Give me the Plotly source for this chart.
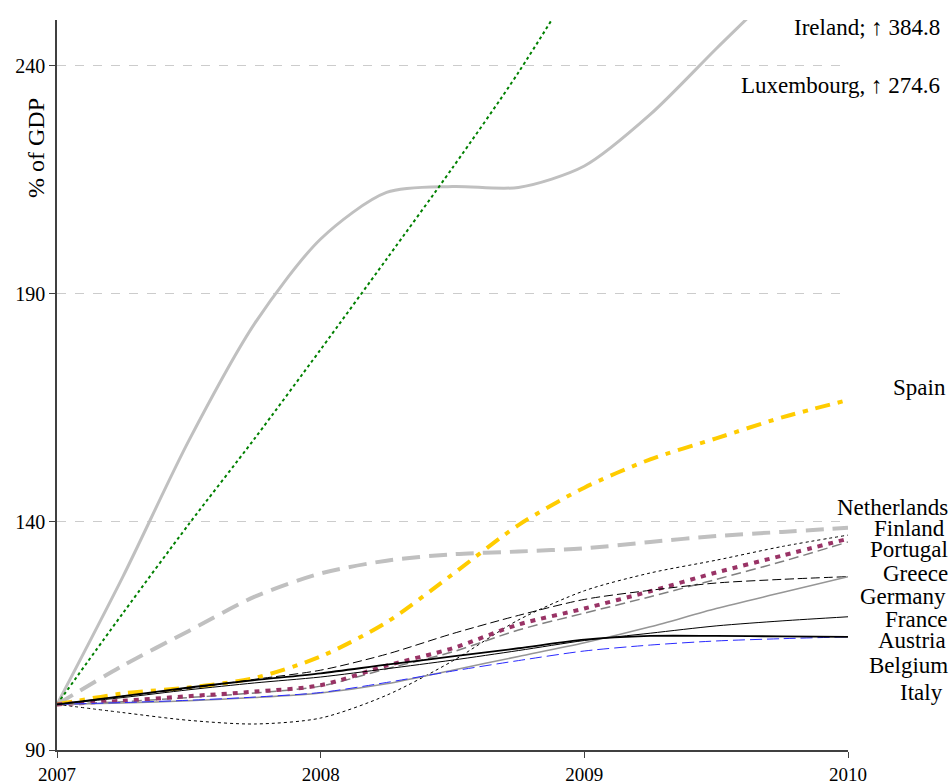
import plotly.graph_objects as go

quarters = [2007.0, 2007.25, 2007.5, 2007.75, 2008.0, 2008.25, 2008.5, 2008.75,
            2009.0, 2009.25, 2009.5, 2009.75, 2010.0]

ireland     = [100, 120.0, 139.5, 158.3, 177.8, 197.6, 217.6, 238.5, 262.0, 290.0, 320.0, 352.0, 384.8]
luxembourg  = [100, 128.0, 157.8, 183.5, 202.0, 212.2, 213.5, 213.3, 218.0, 229.3, 243.7, 258.0, 274.6]
spain       = [100, 102.4, 103.7, 105.8, 110.5, 118.0, 128.5, 139.3, 147.5, 153.7, 158.3, 162.9, 166.7]
netherlands = [100, 108.5, 116.1, 123.6, 128.7, 131.5, 132.9, 133.5, 134.2, 135.6, 136.9, 137.8, 138.7]
finland     = [100, 98.2, 96.5, 95.7, 97.0, 102.0, 109.5, 118.5, 124.9, 128.8, 131.6, 134.6, 137.1]
portugal    = [100, 100.8, 101.8, 102.8, 104.2, 108.5, 112.3, 117.5, 121.0, 124.8, 128.9, 132.6, 136.3]
greece      = [100, 100.6, 101.5, 102.5, 104.0, 107.8, 111.5, 116.3, 120.0, 123.6, 127.4, 131.3, 135.6]
germany     = [100, 101.8, 103.5, 105.5, 107.5, 111.0, 115.5, 119.5, 123.0, 125.0, 126.6, 127.4, 128.0]
france      = [100, 100.3, 100.8, 101.5, 102.5, 104.5, 107.5, 110.5, 113.5, 117.0, 121.0, 124.5, 128.0]
austria     = [100, 101.5, 103.2, 104.7, 106.0, 107.8, 109.7, 111.8, 114.0, 115.6, 117.2, 118.3, 119.2]
belgium     = [100, 101.8, 103.7, 105.3, 106.8, 108.7, 110.5, 112.3, 114.2, 115.0, 115.0, 114.9, 114.8]
italy       = [100, 100.4, 100.9, 101.6, 102.6, 104.8, 107.3, 109.6, 111.7, 113.0, 113.9, 114.4, 114.8]

y_ticks = [90, 140, 190, 240]
x_ticks = [2007, 2008, 2009, 2010]

series = [
    ("Luxembourg", luxembourg, "#c0c0c0", 3, "solid"),
    ("Ireland", ireland, "#008000", 2, "dot"),
    ("Netherlands", netherlands, "#c0c0c0", 4, "18px,9px"),
    ("Spain", spain, "#ffcc00", 4, "15px,8px,5px,8px"),
    ("Finland", finland, "#000000", 1, "3px,3px"),
    ("Greece", greece, "#808080", 1.5, "10px,5px"),
    ("Portugal", portugal, "#993366", 4, "5px,6px"),
    ("Germany", germany, "#000000", 1, "9px,4px"),
    ("France", france, "#969696", 1.5, "solid"),
    ("Italy", italy, "#2a2aff", 1, "12px,5px"),
    ("Austria", austria, "#000000", 1, "solid"),
    ("Belgium", belgium, "#000000", 1.8, "solid"),
]

fig = go.Figure()
for name, vals, color, width, dash in series:
    fig.add_trace(go.Scatter(
        x=quarters, y=vals, mode="lines", name=name,
        line=dict(color=color, width=width, dash=dash, shape="spline", smoothing=0.8),
        showlegend=False, hoverinfo="skip"))

font = "Liberation Serif, Times New Roman, serif"

labels = [
    ("Ireland; \u2191 384.8", 942, 28),
    ("Luxembourg, \u2191 274.6", 942, 85),
    ("Spain", 948, 388),
    ("Netherlands", 950, 507),
    ("Finland", 947, 528),
    ("Portugal", 950, 549),
    ("Greece", 950, 573),
    ("Germany", 948, 596),
    ("France", 950, 619),
    ("Austria", 948, 640),
    ("Belgium", 950, 665),
    ("Italy", 945, 692),
]
L, R, T, B = 57, 848, 20, 750
for text, px, py in labels:
    fig.add_annotation(
        text=text, xref="paper", yref="paper",
        x=(px - L) / (R - L), y=(B - py) / (B - T),
        xanchor="right", yanchor="middle", showarrow=False,
        font=dict(family=font, size=23, color="black"))

fig.add_annotation(
    text="% of GDP", xref="paper", yref="paper",
    x=(36 - L) / (R - L), y=(B - 148) / (B - T),
    xanchor="center", yanchor="middle", textangle=-90, showarrow=False,
    font=dict(family=font, size=24, color="black"))

fig.update_layout(
    width=952, height=784,
    margin=dict(l=L, r=952 - R, t=T, b=784 - B),
    paper_bgcolor="white", plot_bgcolor="white",
    font=dict(family=font, size=20, color="black"),
)
fig.update_xaxes(
    range=[2007, 2010], tickvals=x_ticks, ticktext=[str(v) for v in x_ticks],
    automargin=False,
    showgrid=False, zeroline=False, showline=True, linecolor="#404040", linewidth=1.5,
    ticks="outside", ticklen=6, tickcolor="#404040", tickfont=dict(family=font, size=19))
fig.update_yaxes(
    range=[90, 250], tickvals=y_ticks, automargin=False,
    showgrid=True, gridcolor="#cccccc", griddash="dash", gridwidth=1,
    zeroline=False, showline=True, linecolor="#404040", linewidth=1.5,
    ticks="outside", ticklen=6, tickcolor="#404040", tickfont=dict(family=font, size=20))

fig.write_html("out.html", config={"displayModeBar": False},
               post_script="document.body.style.margin='0';document.body.style.overflow='hidden';")
